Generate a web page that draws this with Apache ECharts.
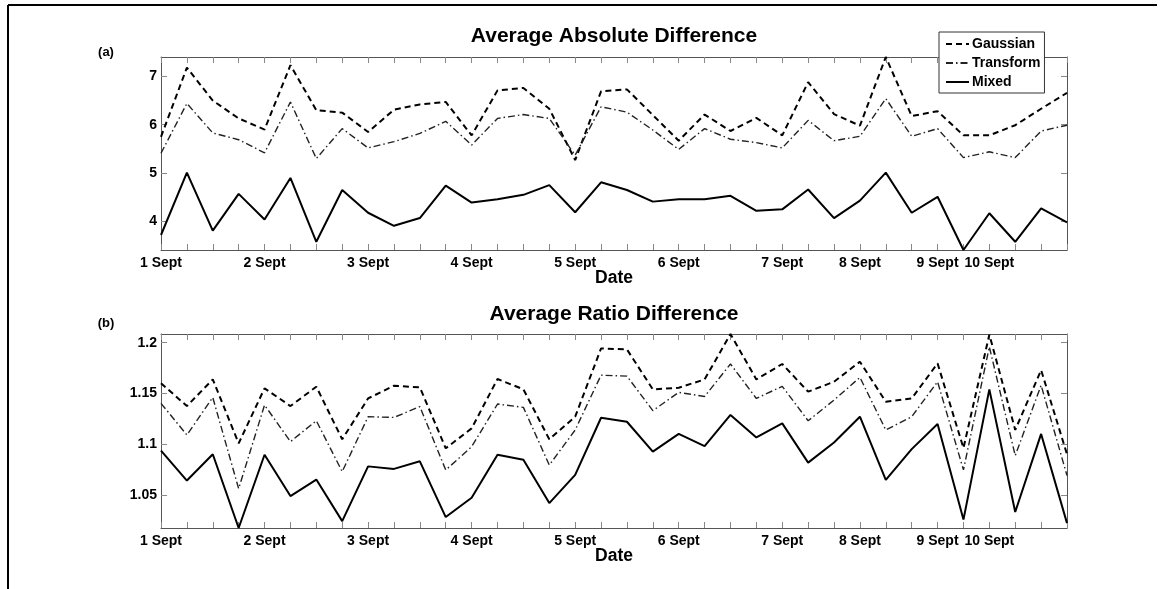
<!DOCTYPE html>
<html>
<head>
<meta charset="utf-8">
<script src="https://cdn.jsdelivr.net/npm/echarts@6/dist/echarts.min.js"></script>
<style>
  html, body { margin: 0; padding: 0; background: #fff; }
  #chart { width: 1161px; height: 589px; }
</style>
</head>
<body>
<div id="chart"></div>
<script>
// Categories (one per sample); non-empty entries are the tick labels shown
const categories = [
  '1 Sept', '', '', '',
  '2 Sept', '', '', '',
  '3 Sept', '', '', '',
  '4 Sept', '', '', '',
  '5 Sept', '', '', '',
  '6 Sept', '', '', '',
  '7 Sept', '', '',
  '8 Sept', '', '',
  '9 Sept', '',
  '10 Sept', '', '', ''
];

// Panel (a): Average Absolute Difference
const gaussianA = [5.75,7.18,6.50,6.13,5.90,7.23,6.30,6.25,5.85,6.31,6.42,6.47,5.78,6.71,6.76,6.33,5.27,6.69,6.73,6.20,5.67,6.21,5.87,6.14,5.78,6.88,6.22,5.98,7.40,6.18,6.28,5.78,5.78,5.99,6.33,6.66];
const transformA = [5.41,6.44,5.83,5.69,5.42,6.47,5.30,5.92,5.52,5.65,5.82,6.07,5.58,6.13,6.21,6.13,5.37,6.37,6.26,5.89,5.49,5.92,5.70,5.63,5.52,6.09,5.67,5.76,6.54,5.76,5.92,5.32,5.44,5.32,5.87,5.99];
const mixedA = [3.72,5.01,3.81,4.57,4.04,4.90,3.58,4.65,4.18,3.91,4.07,4.74,4.39,4.46,4.55,4.75,4.19,4.81,4.65,4.41,4.46,4.46,4.53,4.22,4.25,4.66,4.07,4.43,5.01,4.18,4.51,3.41,4.17,3.58,4.27,3.98];

// Panel (b): Average Ratio Difference
const gaussianB = [1.160,1.1375,1.1638,1.1007,1.155,1.1375,1.1566,1.1047,1.145,1.1576,1.156,1.0958,1.1155,1.1642,1.154,1.1047,1.127,1.1944,1.1934,1.154,1.1556,1.1638,1.2085,1.1638,1.179,1.1517,1.1615,1.1813,1.1418,1.145,1.1796,1.096,1.208,1.114,1.173,1.090];
const transformB = [1.1402,1.109,1.146,1.056,1.1385,1.1024,1.123,1.0728,1.127,1.1263,1.137,1.0744,1.0974,1.1395,1.1362,1.0793,1.1139,1.168,1.167,1.133,1.151,1.147,1.179,1.145,1.157,1.123,1.1434,1.1658,1.1139,1.127,1.1615,1.0745,1.196,1.0886,1.158,1.069];
const mixedB = [1.0935,1.064,1.090,1.0172,1.0895,1.0487,1.065,1.024,1.078,1.0755,1.083,1.028,1.047,1.0895,1.0846,1.0418,1.0696,1.126,1.122,1.0925,1.110,1.098,1.1287,1.1066,1.1204,1.0817,1.1016,1.127,1.0647,1.095,1.1198,1.0255,1.154,1.033,1.110,1.022];

// Y tick labels
const yTicksA = [4, 5, 6, 7];
const yTicksB = [1.05, 1.1, 1.15, 1.2];

const FONT = "'Liberation Sans', Arial, Helvetica, sans-serif";
const AXIS_COLOR = '#555';
const TICK_COLOR = '#888';

function xAxes(gridIndex) {
  const common = {
    type: 'category', gridIndex, data: categories, boundaryGap: false,
    axisLine: { show: true, lineStyle: { color: AXIS_COLOR, width: 1 } },
    axisTick: { show: true, inside: true, length: 6, interval: 0, lineStyle: { color: TICK_COLOR } },
    splitLine: { show: false }
  };
  return [
    Object.assign({}, common, {
      position: 'bottom',
      axisLabel: {
        show: true, margin: 6, color: '#000', fontFamily: FONT, fontWeight: 'bold', fontSize: 14,
        interval: (idx, val) => val !== '', hideOverlap: false
      }
    }),
    Object.assign({}, common, { position: 'top', axisLabel: { show: false } })
  ];
}

function yAxes(gridIndex, min, max, ticks, fmt) {
  const common = {
    type: 'value', gridIndex, min, max, scale: true,
    axisLine: { show: true, lineStyle: { color: AXIS_COLOR, width: 1 } },
    axisTick: { show: true, inside: true, length: 6, customValues: ticks, lineStyle: { color: TICK_COLOR } },
    splitLine: { show: false }
  };
  return [
    Object.assign({}, common, {
      position: 'left',
      axisLabel: { show: true, margin: 4, color: '#000', fontFamily: FONT, fontWeight: 'bold', fontSize: 14,
        customValues: ticks, formatter: fmt }
    }),
    Object.assign({}, common, { position: 'right', axisLabel: { show: false } })
  ];
}

const styles = {
  Gaussian: { color: '#000', width: 2, type: [6, 4] },
  Transform: { color: '#222', width: 1.4, type: [7, 3, 1.5, 3] },
  Mixed: { color: '#000', width: 2, type: 'solid' }
};

function mk(name, data, axisIdx) {
  return {
    name, type: 'line', data, xAxisIndex: axisIdx, yAxisIndex: axisIdx,
    symbol: 'none', showSymbol: false, lineStyle: styles[name], itemStyle: { color: '#000' },
    animation: false, z: name === 'Mixed' ? 3 : 2
  };
}

const chart = echarts.init(document.getElementById('chart'), null, { renderer: 'canvas' });

const textStyle = (text, x, y, size) => ({
  type: 'text', x, y,
  style: { text, fill: '#000', font: `bold ${size}px ${FONT}`, textAlign: 'center', textVerticalAlign: 'middle' }
});

chart.setOption({
  animation: false,
  backgroundColor: '#fff',
  grid: [
    { left: 161, top: 57, width: 906, height: 193 },
    { left: 161, top: 334, width: 906, height: 194 }
  ],
  xAxis: [...xAxes(0), ...xAxes(1)],
  yAxis: [
    ...yAxes(0, 3.41, 7.40, yTicksA, v => String(v)),
    ...yAxes(1, 1.0172, 1.2086, yTicksB, v => String(v))
  ],
  legend: {
    show: true, orient: 'vertical', left: 939, top: 32,
    data: ['Gaussian', 'Transform', 'Mixed'],
    itemWidth: 23, itemHeight: 14, itemGap: 5,
    padding: [5, 4, 4, 6],
    backgroundColor: '#fff', borderColor: '#333', borderWidth: 1, borderRadius: 0,
    itemStyle: { opacity: 0, borderWidth: 0 },
    textStyle: { fontFamily: FONT, fontWeight: 'bold', fontSize: 14, color: '#000', padding: [0, 0, 0, -2] },
    selectedMode: false, z: 10
  },
  series: [
    mk('Gaussian', gaussianA, 0),
    mk('Transform', transformA, 0),
    mk('Mixed', mixedA, 0),
    mk('Gaussian', gaussianB, 2),
    mk('Transform', transformB, 2),
    mk('Mixed', mixedB, 2)
  ],
  graphic: [
    { type: 'line', shape: { x1: 8, y1: 5, x2: 1157, y2: 5 }, style: { stroke: '#000', lineWidth: 2 } },
    { type: 'line', shape: { x1: 8, y1: 5, x2: 8, y2: 589 }, style: { stroke: '#000', lineWidth: 2 } },
    textStyle('Average Absolute Difference', 614, 36, 21),
    textStyle('Average Ratio Difference', 614, 314, 21),
    textStyle('(a)', 106, 52, 13),
    textStyle('(b)', 106, 323, 13),
    textStyle('Date', 614, 278, 17.5),
    textStyle('Date', 614, 556, 17.5)
  ]
});
</script>
</body>
</html>
